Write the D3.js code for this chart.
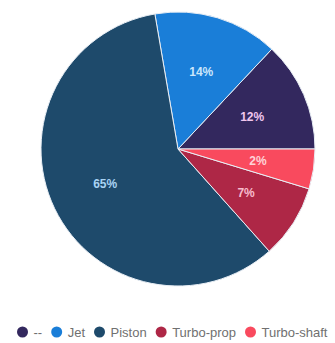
<!DOCTYPE html>
<html><head><meta charset="utf-8">
<script src="https://cdn.jsdelivr.net/npm/d3@7"></script>
<style>body{margin:0;background:#fff}svg{display:block}</style>
</head><body>
<script>
const categories = ["--", "Jet", "Piston", "Turbo-prop", "Turbo-shaft"];
const values = [13.0, 14.7, 58.9, 8.7, 4.7];
const pctLabels = ["12%", "14%", "65%", "7%", "2%"];
const colors = ["#33285e", "#1a7ed8", "#1e4a6b", "#ae2746", "#f94a5e"];
const labelColors = ["#f0c6ee", "#cbe6fb", "#a9d3f3", "#f7bccd", "#ffd2d8"];

const W = 335, H = 343;
const svg = d3.select("body").append("svg").attr("width", W).attr("height", H);
const cx = 178, cy = 149, R = 137;

const pie = d3.pie().sort(null).value(d => d)
  .startAngle(Math.PI / 2).endAngle(Math.PI / 2 - 2 * Math.PI);
const arcs = pie(values);
const arc = d3.arc().innerRadius(0).outerRadius(R);
const labelArc = d3.arc().innerRadius(R * 0.59).outerRadius(R * 0.59);

const g = svg.append("g").attr("transform", `translate(${cx},${cy})`);
g.selectAll("path").data(arcs).join("path")
  .attr("d", arc).attr("fill", (d, i) => colors[i])
  .attr("stroke", "#e8eef5").attr("stroke-width", 1);

g.selectAll("text").data(arcs).join("text")
  .attr("transform", d => `translate(${labelArc.centroid(d)})`)
  .attr("text-anchor", "middle").attr("dy", "0.35em")
  .attr("font-family", "Liberation Sans, Arial, sans-serif")
  .attr("font-size", 12).attr("font-weight", "bold")
  .attr("fill", (d, i) => labelColors[i])
  .text((d, i) => pctLabels[i]);

// legend
const lg = svg.append("g").attr("transform", "translate(0,332)");
let cxL = 22.5;
categories.forEach((c, i) => {
  const it = lg.append("g");
  it.append("circle").attr("cx", cxL).attr("cy", 0).attr("r", 5.5).attr("fill", colors[i]);
  const t = it.append("text").attr("x", cxL + 11).attr("y", 0).attr("dy", "0.35em")
    .attr("font-family", "Liberation Sans, Arial, sans-serif").attr("font-size", 13)
    .attr("fill", "#707070").text(c);
  cxL += 11 + t.node().getComputedTextLength() + 14.5;
});
</script>
</body></html>
